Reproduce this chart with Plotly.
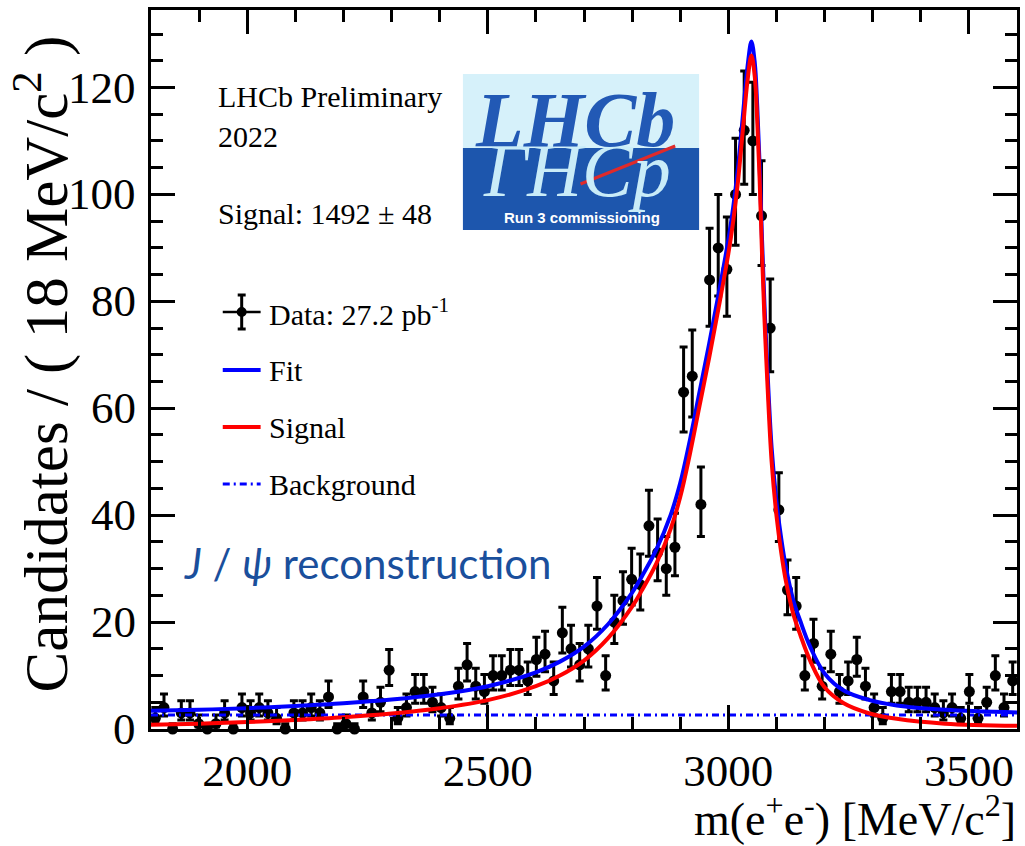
import numpy as np
import plotly.graph_objects as go

# ---------------- data ----------------
BIN_WIDTH = 18
X_MIN, X_MAX = 1800, 3600
bin_centers = [X_MIN + BIN_WIDTH / 2 + BIN_WIDTH * i for i in range(100)]
counts = [2, 4, 0, 3, 3, 1, 0, 1, 3, 0,
          4, 3, 4, 3, 2, 0, 3, 3, 4, 3,
          6, 0, 1, 0, 6, 3, 5, 11, 2, 4,
          7, 7, 5, 4, 2, 8, 12, 8, 7, 10,
          10, 11, 11, 9, 13, 14, 9, 18, 15, 12,
          15, 23, 10, 20, 24, 28, 27, 38, 33, 30,
          34, 63, 66, 42, 84, 90, 86, 100, 112, 110,
          96, 75, 41, 26, 23, 10, 16, 8, 14, 7,
          9, 13, 8, 4, 2, 7, 7, 5, 5, 5,
          4, 3, 4, 2, 7, 2, 5, 10, 4, 9]

curve_mass = [1800, 1900, 2000, 2100, 2200, 2300, 2400, 2500, 2600, 2650,
              2700, 2750, 2800, 2820, 2850, 2880, 2900, 2920, 2940, 2960,
              2980, 3000, 3010, 3020, 3030, 3040, 3048, 3055, 3060, 3065,
              3070, 3075, 3080, 3090, 3100, 3110, 3120, 3135, 3150, 3170,
              3200, 3240, 3290, 3350, 3450, 3600]
signal_curve = [0.8, 1.0, 1.3, 1.7, 2.2, 2.9, 3.9, 5.4, 8.0, 10.0,
                12.8, 17.0, 22.9, 25.9, 30.9, 37.4, 43.4, 51.4, 60.4, 69.4,
                78.9, 88.9, 94.9, 102.4, 111.9, 121.4, 126.0, 122.0, 114.0, 103.0,
                89.0, 77.0, 67.0, 50.0, 40.0, 33.0, 27.5, 21.5, 17.5, 12.8,
                7.8, 4.8, 3.0, 1.9, 1.0, 0.6]
fit_curve = [3.4, 3.6, 3.9, 4.3, 4.8, 5.5, 6.5, 8.0, 10.6, 12.6,
             15.4, 19.6, 25.5, 28.5, 33.5, 40.0, 46.0, 54.0, 63.0, 72.0,
             81.5, 91.5, 97.5, 105.0, 114.5, 124.0, 128.6, 124.6, 116.6, 105.6,
             91.6, 79.6, 69.6, 52.6, 42.6, 35.6, 30.1, 24.1, 20.1, 15.4,
             10.4, 7.2, 5.5, 4.4, 3.6, 3.1]
bkg_mass = [1800, 3600]
bkg_curve = [2.6, 2.6]

x_ticks = [2000, 2500, 3000, 3500]
y_ticks = [0, 20, 40, 60, 80, 100, 120]

# Poisson-like asymmetric error bars
c = np.array(counts, dtype=float)
err_hi = 0.5 + np.sqrt(c + 0.25)
err_lo = np.sqrt(c + 0.25) - 0.5

# ---------------- layout geometry ----------------
W, H = 1025, 846
L, R, T, B = 151, 1020, 10, 729


def px(xp):
    return (xp - L) / (R - L)


def py(yp):
    return (B - yp) / (B - T)


SERIF = "Liberation Serif, Times New Roman, serif"
BLUE = "#0000ff"
RED = "#ff0000"
DASHDOT = "7px,4px,2px,4px"

fig = go.Figure()

fig.add_trace(go.Scatter(
    x=bin_centers, y=counts, mode="markers",
    marker=dict(color="black", size=11),
    error_y=dict(type="data", symmetric=False, array=err_hi, arrayminus=err_lo,
                 color="black", thickness=3, width=4),
    cliponaxis=False, showlegend=False, name="Data"))

fig.add_trace(go.Scatter(
    x=bkg_mass, y=bkg_curve, mode="lines",
    line=dict(color=BLUE, width=3, dash=DASHDOT),
    showlegend=False, name="Background"))

fig.add_trace(go.Scatter(
    x=curve_mass, y=fit_curve, mode="lines",
    line=dict(color=BLUE, width=4, shape="spline", smoothing=1.0),
    showlegend=False, name="Fit"))

fig.add_trace(go.Scatter(
    x=curve_mass, y=signal_curve, mode="lines",
    line=dict(color=RED, width=4, shape="spline", smoothing=1.0),
    showlegend=False, name="Signal"))

axis_common = dict(
    showline=True, linecolor="black", linewidth=2.5, mirror="allticks",
    ticks="inside", ticklen=24, tickwidth=2.5, tickcolor="black",
    showgrid=False, zeroline=False,
    tickfont=dict(family=SERIF, size=45, color="black"),
)

fig.update_xaxes(range=[X_MIN, X_MAX], tickvals=x_ticks,
                 ticktext=[str(v) for v in x_ticks],
                 minor=dict(ticks="inside", ticklen=12, tickwidth=2.5, dtick=100,
                            tickcolor="black", showgrid=False),
                 ticklabelstandoff=0,
                 **axis_common)
fig.update_yaxes(range=[0, 134.5], tickvals=y_ticks,
                 showticklabels=False,
                 minor=dict(ticks="inside", ticklen=12, tickwidth=2.5, dtick=5,
                            tickcolor="black", showgrid=False),
                 **axis_common)

shapes = []
annotations = []

# y tick labels (placed explicitly to keep the gap to the frame)
for v in y_ticks:
    annotations.append(dict(
        text=str(v), xref="paper", yref="y", x=px(138), y=v,
        xanchor="right", yanchor="middle", showarrow=False,
        font=dict(family=SERIF, size=45, color="black")))

# axis titles
annotations.append(dict(
    text="Candidates / ( 18 MeV/c<sup>2</sup> )", textangle=-90,
    xref="paper", yref="paper", x=px(42), y=py(364),
    xanchor="center", yanchor="middle", showarrow=False,
    font=dict(family=SERIF, size=61, color="black")))
annotations.append(dict(
    text="m(e<sup>+</sup>e<sup>-</sup>) [MeV/c<sup>2</sup>]",
    xref="paper", yref="paper", x=px(1021), y=py(816),
    xanchor="right", yanchor="middle", showarrow=False,
    font=dict(family=SERIF, size=46, color="black")))

# top-left text
for txt, yc in [("LHCb Preliminary", 96), ("2022", 136), ("Signal: 1492 \u00b1 48", 214)]:
    annotations.append(dict(
        text=txt, xref="paper", yref="paper", x=px(216), y=py(yc),
        xanchor="left", yanchor="middle", showarrow=False,
        font=dict(family=SERIF, size=30, color="black")))

# custom legend
LEG_X0, LEG_X1, LEG_TX = 223, 261, 267
leg_rows = [("Data: 27.2 pb<sup>-1</sup>", 312), ("Fit", 370), ("Signal", 427), ("Background", 484)]
for txt, yc in leg_rows:
    annotations.append(dict(
        text=txt, xref="paper", yref="paper", x=px(LEG_TX), y=py(yc),
        xanchor="left", yanchor="middle", showarrow=False,
        font=dict(family=SERIF, size=30, color="black")))
yd = 312
shapes += [
    dict(type="line", xref="paper", yref="paper", x0=px(LEG_X0), x1=px(LEG_X1),
         y0=py(yd), y1=py(yd), line=dict(color="black", width=2.5)),
    dict(type="line", xref="paper", yref="paper", x0=px(242), x1=px(242),
         y0=py(295), y1=py(329), line=dict(color="black", width=3)),
    dict(type="line", xref="paper", yref="paper", x0=px(238), x1=px(246),
         y0=py(295), y1=py(295), line=dict(color="black", width=3)),
    dict(type="line", xref="paper", yref="paper", x0=px(238), x1=px(246),
         y0=py(329), y1=py(329), line=dict(color="black", width=3)),
    dict(type="circle", xref="paper", yref="paper", x0=px(237), x1=px(247),
         y0=py(317), y1=py(307), fillcolor="black", line=dict(color="black", width=0)),
]
shapes += [
    dict(type="line", xref="paper", yref="paper", x0=px(LEG_X0), x1=px(LEG_X1),
         y0=py(370), y1=py(370), line=dict(color=BLUE, width=4)),
    dict(type="line", xref="paper", yref="paper", x0=px(LEG_X0), x1=px(LEG_X1),
         y0=py(427), y1=py(427), line=dict(color=RED, width=4)),
    dict(type="line", xref="paper", yref="paper", x0=px(LEG_X0), x1=px(LEG_X1),
         y0=py(484), y1=py(484), line=dict(color=BLUE, width=3, dash=DASHDOT)),
]

# J/psi label
annotations.append(dict(
    text="<i>J</i> / <i>\u03c8</i> reconstruction", xref="paper", yref="paper",
    x=px(182), y=py(563), xanchor="left", yanchor="middle", showarrow=False,
    font=dict(family="Lato, Open Sans, sans-serif", size=42, color="#1a4f9c")))

# LHCb logo
shapes += [
    dict(type="rect", xref="paper", yref="paper", x0=px(464), x1=px(701),
         y0=py(148), y1=py(74), fillcolor="#d6f1fa", line=dict(width=0), layer="above"),
    dict(type="rect", xref="paper", yref="paper", x0=px(464), x1=px(701),
         y0=py(230), y1=py(148), fillcolor="#1d56ad", line=dict(width=0), layer="above"),
]
annotations.append(dict(
    text="<i>\u0393HCp</i>", xref="paper", yref="paper",
    x=px(578), y=py(170), xanchor="center", yanchor="middle", showarrow=False,
    font=dict(family=SERIF, size=76, color="#c9ecf8")))
annotations.append(dict(
    text="<b><i>LHCb</i></b>", xref="paper", yref="paper",
    x=px(576), y=py(119), xanchor="center", yanchor="middle", showarrow=False,
    font=dict(family=SERIF, size=78, color="#2259b5")))
shapes.append(dict(type="line", xref="paper", yref="paper", x0=px(582), y0=py(184),
                   x1=px(677), y1=py(146), line=dict(color="#e02a2a", width=3), layer="above"))
annotations.append(dict(
    text="<b>Run 3 commissioning</b>", xref="paper", yref="paper",
    x=px(583), y=py(217), xanchor="center", yanchor="middle", showarrow=False,
    font=dict(family="Liberation Sans, Arial, sans-serif", size=15, color="white")))

fig.update_layout(
    width=W, height=H,
    margin=dict(l=L, r=W - R, t=T, b=H - B, pad=0),
    paper_bgcolor="white", plot_bgcolor="white",
    showlegend=False,
    shapes=shapes, annotations=annotations,
)

fig.write_html("out.html")
